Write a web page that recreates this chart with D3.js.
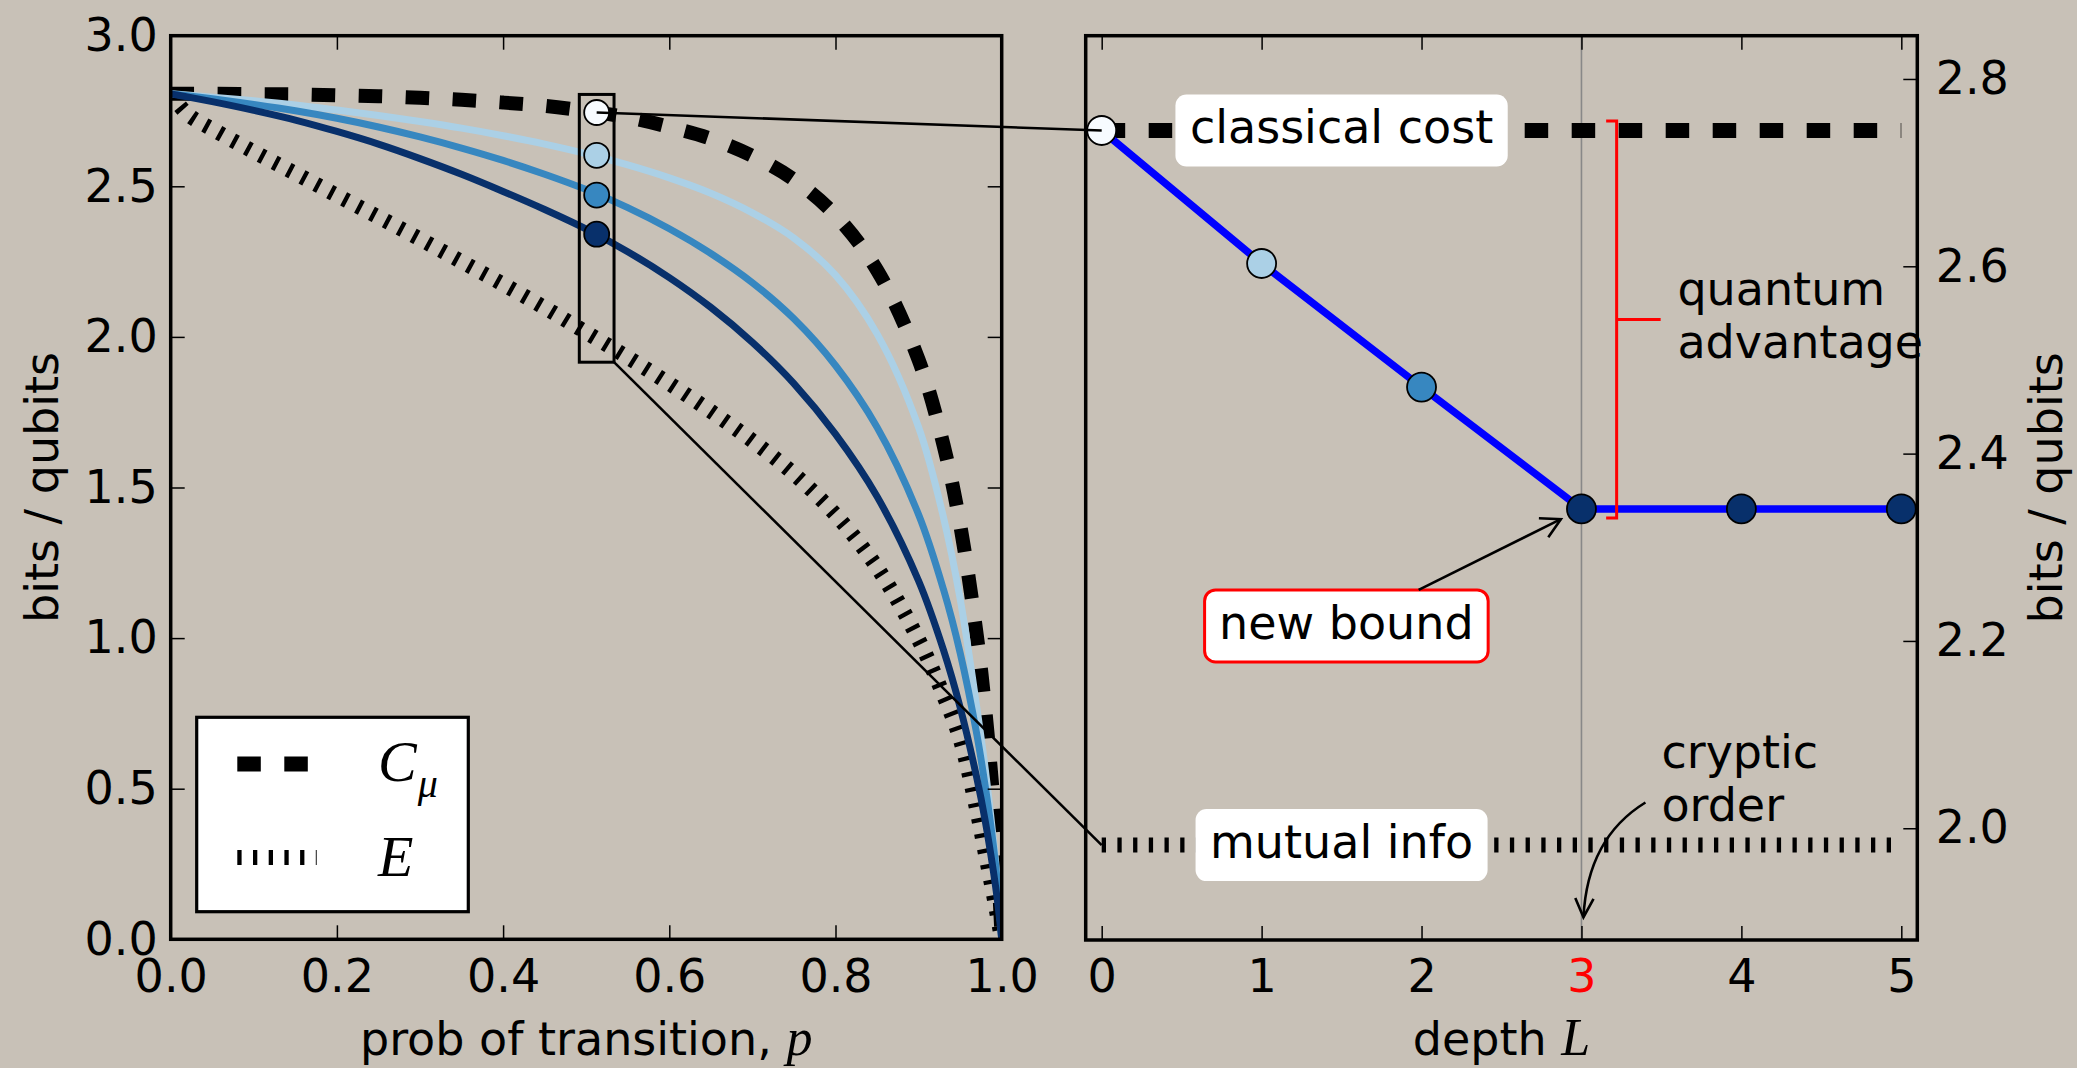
<!DOCTYPE html>
<html>
<head>
<meta charset="utf-8">
<script src="https://cdn.jsdelivr.net/npm/d3@7"></script>
<style>
  html, body { margin: 0; padding: 0; background: #c8c1b7; }
  svg { display: block; }
</style>
</head>
<body>
<svg id="fig" width="2077" height="1068"></svg>
<script>
// ---------- data ----------
// transition probability grid for the left panel
const pGrid   = [0, 0.02, 0.05, 0.1, 0.15, 0.2, 0.25, 0.3, 0.35, 0.4, 0.45, 0.5, 0.55, 0.6, 0.65, 0.7, 0.75, 0.8, 0.85, 0.9, 0.93, 0.95, 0.97, 0.98, 0.99, 0.995, 1.0];
// statistical complexity C_mu (bits)
const cmu     = [2.807, 2.807, 2.807, 2.806, 2.805, 2.802, 2.799, 2.794, 2.787, 2.778, 2.767, 2.75, 2.729, 2.697, 2.658, 2.601, 2.522, 2.404, 2.222, 1.924, 1.641, 1.376, 1.01, 0.768, 0.46, 0.265, 0];
// quantum memory cost at depth L = 1, 2, 3 (qubits)
const qDepth1 = [2.807, 2.803, 2.796, 2.784, 2.770, 2.753, 2.735, 2.715, 2.693, 2.668, 2.640, 2.608, 2.571, 2.528, 2.477, 2.412, 2.328, 2.205, 2.01, 1.70, 1.40, 1.13, 0.77, 0.57, 0.33, 0.19, 0];
const qDepth2 = [2.807, 2.801, 2.791, 2.772, 2.751, 2.726, 2.697, 2.664, 2.627, 2.586, 2.54, 2.489, 2.429, 2.359, 2.277, 2.18, 2.06, 1.905, 1.70, 1.41, 1.161, 0.951, 0.681, 0.511, 0.311, 0.181, 0];
const qDepth3 = [2.807, 2.797, 2.781, 2.752, 2.72, 2.682, 2.64, 2.592, 2.54, 2.483, 2.423, 2.358, 2.283, 2.197, 2.098, 1.982, 1.845, 1.677, 1.47, 1.19, 0.96, 0.77, 0.536, 0.396, 0.226, 0.126, 0];
// excess entropy E (bits)
const excess  = [2.807, 2.74, 2.69, 2.615, 2.543, 2.47, 2.398, 2.325, 2.25, 2.175, 2.097, 2.015, 1.932, 1.845, 1.753, 1.655, 1.545, 1.41, 1.235, 0.995, 0.81, 0.665, 0.43, 0.29, 0.15, 0.075, 0];

// right panel: cost versus encoding depth at the highlighted p
const depths       = [0, 1, 2, 3, 4, 5];
const depthCost    = [2.745, 2.603, 2.471, 2.341, 2.341, 2.341];
const depthColors  = ["#f7fbff", "#abd0e6", "#3787c0", "#08306b", "#08306b", "#08306b"];
const classicalCost = 2.745;
const mutualInfo    = 1.982;
const crypticOrder  = 3;

// highlighted slice in the left panel
const sliceP      = 0.5126;
const sliceWidthP = [0.4917, 0.5335];
const sliceSpan   = [1.916, 2.805];

// ticks
const leftXTicks  = [0, 0.2, 0.4, 0.6, 0.8, 1.0];
const leftYTicks  = [0, 0.5, 1.0, 1.5, 2.0, 2.5, 3.0];
const rightXTicks = [0, 1, 2, 3, 4, 5];
const rightYTicks = [2.0, 2.2, 2.4, 2.6, 2.8];

// ---------- layout ----------
const BG = "#c8c1b7";
const SANS = '"DejaVu Sans", sans-serif';
const SERIF = '"Liberation Serif", "DejaVu Serif", serif';
const FS = 46;

const L = { x0: 170.7, x1: 1001.7, y0: 35.7, y1: 939.3 };
const R = { x0: 1085.7, x1: 1917.3, y0: 35.7, y1: 940 };

const xP = d3.scaleLinear().domain([0, 1]).range([L.x0, L.x1]);
const yB = d3.scaleLinear().domain([0, 3]).range([L.y1, L.y0]);
const xD = d3.scaleLinear().domain([-0.1, 5.1]).range([R.x0, R.x1]);
const yD = d3.scaleLinear().domain([1.8807, 2.8462]).range([R.y1, R.y0]);

const svg = d3.select("#fig");
svg.append("rect").attr("width", 2077).attr("height", 1068).attr("fill", BG);

const defs = svg.append("defs");
defs.append("clipPath").attr("id", "clipL").append("rect")
  .attr("x", L.x0).attr("y", L.y0).attr("width", L.x1 - L.x0).attr("height", L.y1 - L.y0);
defs.append("clipPath").attr("id", "clipR").append("rect")
  .attr("x", R.x0).attr("y", R.y0).attr("width", R.x1 - R.x0).attr("height", R.y1 - R.y0);

function styleAxis(g) {
  g.attr("font-family", SANS).attr("font-size", FS);
  g.select(".domain").remove();
  g.selectAll(".tick line").attr("stroke", "#000").attr("stroke-width", 1.5);
  g.selectAll(".tick text").attr("fill", "#000");
}

// ---------- left panel ----------
const left = svg.append("g");
const curves = left.append("g").attr("clip-path", "url(#clipL)");

const lineP = vals => d3.line()
  .x((d, i) => xP(pGrid[i]))
  .y(d => yB(d))
  .curve(d3.curveCatmullRom.alpha(0.5))(vals);

curves.append("path").attr("d", lineP(excess))
  .attr("fill", "none").attr("stroke", "#000").attr("stroke-width", 15)
  .attr("stroke-dasharray", "4.3 11.4");
curves.append("path").attr("d", lineP(cmu))
  .attr("fill", "none").attr("stroke", "#000").attr("stroke-width", 14)
  .attr("stroke-dasharray", "23.5 23.5");
[[qDepth1, depthColors[1]], [qDepth2, depthColors[2]], [qDepth3, depthColors[3]]].forEach(([vals, c]) => {
  curves.append("path").attr("d", lineP(vals))
    .attr("fill", "none").attr("stroke", c).attr("stroke-width", 7)
    .attr("stroke-linejoin", "round");
});

// slice window and the costs at that p
left.append("rect")
  .attr("x", xP(sliceWidthP[0])).attr("y", yB(sliceSpan[1]))
  .attr("width", xP(sliceWidthP[1]) - xP(sliceWidthP[0]))
  .attr("height", yB(sliceSpan[0]) - yB(sliceSpan[1]))
  .attr("fill", "none").attr("stroke", "#000").attr("stroke-width", 3);
left.selectAll("circle.slice").data(depthCost.slice(0, 4)).join("circle")
  .attr("class", "slice")
  .attr("cx", xP(sliceP)).attr("cy", d => yB(d)).attr("r", 12.5)
  .attr("fill", (d, i) => depthColors[i]).attr("stroke", "#000").attr("stroke-width", 1.8);

// axes
left.append("g").attr("transform", `translate(0,${L.y1})`)
  .call(d3.axisBottom(xP).tickValues(leftXTicks).tickSize(-14).tickSizeOuter(0).tickPadding(20).tickFormat(d3.format(".1f")))
  .call(styleAxis);
left.append("g").attr("transform", `translate(0,${L.y0})`)
  .call(d3.axisTop(xP).tickValues(leftXTicks).tickSize(-14).tickSizeOuter(0).tickFormat(""))
  .call(styleAxis);
left.append("g").attr("transform", `translate(${L.x0},0)`)
  .call(d3.axisLeft(yB).tickValues(leftYTicks).tickSize(-14).tickSizeOuter(0).tickPadding(13).tickFormat(d3.format(".1f")))
  .call(styleAxis);
left.append("g").attr("transform", `translate(${L.x1},0)`)
  .call(d3.axisRight(yB).tickValues(leftYTicks).tickSize(-14).tickSizeOuter(0).tickFormat(""))
  .call(styleAxis);
left.append("rect").attr("x", L.x0).attr("y", L.y0)
  .attr("width", L.x1 - L.x0).attr("height", L.y1 - L.y0)
  .attr("fill", "none").attr("stroke", "#000").attr("stroke-width", 3.5);

// axis titles
const xt = left.append("text").attr("x", (L.x0 + L.x1) / 2).attr("y", 1055)
  .attr("text-anchor", "middle").attr("font-family", SANS).attr("font-size", FS);
xt.append("tspan").text("prob of transition, ");
xt.append("tspan").attr("font-family", SERIF).attr("font-style", "italic").attr("font-size", 52).text("p");

left.append("text").attr("transform", `translate(58,${(L.y0 + L.y1) / 2}) rotate(-90)`)
  .attr("text-anchor", "middle").attr("font-family", SANS).attr("font-size", FS)
  .text("bits / qubits");

// legend
const leg = left.append("g");
leg.append("rect").attr("x", 196.7).attr("y", 717.3).attr("width", 271.6).attr("height", 194.4)
  .attr("fill", "#fff").attr("stroke", "#000").attr("stroke-width", 3.2);
leg.append("line").attr("x1", 237.3).attr("x2", 308.3).attr("y1", 764).attr("y2", 764)
  .attr("stroke", "#000").attr("stroke-width", 15).attr("stroke-dasharray", "23.5 23.5");
leg.append("line").attr("x1", 237.3).attr("x2", 316.7).attr("y1", 857.5).attr("y2", 857.5)
  .attr("stroke", "#000").attr("stroke-width", 15).attr("stroke-dasharray", "4.3 11.4");
const cl = leg.append("text").attr("x", 378).attr("y", 781)
  .attr("font-family", SERIF).attr("font-style", "italic").attr("font-size", 58);
cl.append("tspan").text("C");
cl.append("tspan").attr("font-size", 40).attr("dy", 16).attr("dx", 1).text("μ");
leg.append("text").attr("x", 378).attr("y", 876)
  .attr("font-family", SERIF).attr("font-style", "italic").attr("font-size", 58).text("E");

// ---------- right panel ----------
const right = svg.append("g");
const plot = right.append("g").attr("clip-path", "url(#clipR)");

plot.append("line").attr("x1", xD(crypticOrder)).attr("x2", xD(crypticOrder))
  .attr("y1", R.y0).attr("y2", R.y1).attr("stroke", "#888").attr("stroke-width", 1.6);

plot.append("line").attr("x1", xD(depths[0])).attr("x2", xD(depths[depths.length - 1]))
  .attr("y1", yD(classicalCost)).attr("y2", yD(classicalCost))
  .attr("stroke", "#000").attr("stroke-width", 15).attr("stroke-dasharray", "23.5 23.5");
plot.append("line").attr("x1", xD(depths[0])).attr("x2", xD(depths[depths.length - 1]))
  .attr("y1", yD(mutualInfo)).attr("y2", yD(mutualInfo))
  .attr("stroke", "#000").attr("stroke-width", 15).attr("stroke-dasharray", "4.3 11.4");

plot.append("path")
  .attr("d", d3.line().x((d, i) => xD(depths[i])).y(d => yD(d))(depthCost))
  .attr("fill", "none").attr("stroke", "#0000ff").attr("stroke-width", 7.5).attr("stroke-linejoin", "round");

right.selectAll("circle.depth").data(depthCost).join("circle")
  .attr("class", "depth")
  .attr("cx", (d, i) => xD(depths[i])).attr("cy", d => yD(d)).attr("r", 14.5)
  .attr("fill", (d, i) => depthColors[i]).attr("stroke", "#000").attr("stroke-width", 1.8);

// labelled boxes
function boxLabel(text, cx, cy, stroke) {
  const g = right.append("g");
  const rect = g.append("rect");
  const t = g.append("text").attr("x", cx).attr("y", cy + 12.8)
    .attr("text-anchor", "middle").attr("font-family", SANS).attr("font-size", FS).text(text);
  const w = t.node().getComputedTextLength();
  rect.attr("x", cx - w / 2 - 14.5).attr("y", cy - 36).attr("width", w + 29).attr("height", 72)
    .attr("rx", 11).attr("ry", 11).attr("fill", "#fff")
    .attr("stroke", stroke || "none").attr("stroke-width", stroke ? 3 : 0);
  return { cx, cy, w: w + 29, h: 72 };
}
boxLabel("classical cost", xD(1.5), yD(classicalCost));
boxLabel("mutual info", xD(1.5), yD(mutualInfo));
const nb = boxLabel("new bound", xD(1.53), yD(2.216), "#ff0000");

// arrow helper (open "->" head)
function arrowHead(g, tip, dir, len, ang) {
  const a = Math.atan2(dir[1], dir[0]);
  const p1 = [tip[0] - len * Math.cos(a - ang), tip[1] - len * Math.sin(a - ang)];
  const p2 = [tip[0] - len * Math.cos(a + ang), tip[1] - len * Math.sin(a + ang)];
  g.append("path").attr("d", `M${p1[0]},${p1[1]}L${tip[0]},${tip[1]}L${p2[0]},${p2[1]}`)
    .attr("fill", "none").attr("stroke", "#000").attr("stroke-width", 2.6);
}

// "new bound" arrow to the depth-3 point
{
  const tx = xD(crypticOrder), ty = yD(depthCost[3]);
  const dx = tx - nb.cx, dy = ty - nb.cy;
  const t0 = (nb.h / 2) / Math.abs(dy);
  const sx = nb.cx + dx * t0, sy = nb.cy + dy * t0;
  const len = Math.hypot(tx - sx, ty - sy);
  const ux = (tx - sx) / len, uy = (ty - sy) / len;
  const ex = tx - ux * 23, ey = ty - uy * 23;
  const g = right.append("g");
  g.append("line").attr("x1", sx).attr("y1", sy).attr("x2", ex).attr("y2", ey)
    .attr("stroke", "#000").attr("stroke-width", 2.6);
  arrowHead(g, [ex, ey], [ux, uy], 22, 0.5);
}

// "cryptic order" annotation with curved arrow
{
  const g = right.append("g");
  const t = g.append("text").attr("font-family", SANS).attr("font-size", FS);
  t.append("tspan").attr("x", xD(3.5)).attr("y", 768).text("cryptic");
  t.append("tspan").attr("x", xD(3.5)).attr("y", 820.7).text("order");
  const sx = xD(3.5) - 16, sy = 802.5;
  const tipX = xD(crypticOrder) + 2, tipY = yD(1.905);
  const cx = xD(crypticOrder) + 6, cy = 838;
  g.append("path").attr("d", `M${sx},${sy}Q${cx},${cy} ${tipX},${tipY}`)
    .attr("fill", "none").attr("stroke", "#000").attr("stroke-width", 2.6);
  arrowHead(g, [tipX, tipY], [tipX - cx, tipY - cy], 21, 0.45);
}

// quantum advantage bracket
{
  const bx = xD(3.22);
  const top = yD(classicalCost) - 9.5, bot = yD(depthCost[3]) + 9;
  const mid = (top + bot) / 2;
  const g = right.append("g");
  g.append("path").attr("d", `M${bx - 10.5},${top}H${bx}V${bot}H${bx - 10.5}M${bx},${mid}H${bx + 44}`)
    .attr("fill", "none").attr("stroke", "#ff0000").attr("stroke-width", 3);
  const t = g.append("text").attr("font-family", SANS).attr("font-size", FS);
  t.append("tspan").attr("x", xD(3.6)).attr("y", 305).text("quantum");
  t.append("tspan").attr("x", xD(3.6)).attr("y", 357.8).text("advantage");
}

// axes
const xb = right.append("g").attr("transform", `translate(0,${R.y1})`)
  .call(d3.axisBottom(xD).tickValues(rightXTicks).tickSize(-14).tickSizeOuter(0).tickPadding(19).tickFormat(d3.format("d")))
  .call(styleAxis);
xb.selectAll(".tick text").filter(d => d === crypticOrder).attr("fill", "#ff0000");
right.append("g").attr("transform", `translate(0,${R.y0})`)
  .call(d3.axisTop(xD).tickValues(rightXTicks).tickSize(-14).tickSizeOuter(0).tickFormat(""))
  .call(styleAxis);
right.append("g").attr("transform", `translate(${R.x1},0)`)
  .call(d3.axisRight(yD).tickValues(rightYTicks).tickSize(-14).tickSizeOuter(0).tickPadding(18.4).tickFormat(d3.format(".1f")))
  .call(styleAxis);
right.append("rect").attr("x", R.x0).attr("y", R.y0)
  .attr("width", R.x1 - R.x0).attr("height", R.y1 - R.y0)
  .attr("fill", "none").attr("stroke", "#000").attr("stroke-width", 3.5);

const dt = right.append("text").attr("x", (R.x0 + R.x1) / 2).attr("y", 1055)
  .attr("text-anchor", "middle").attr("font-family", SANS).attr("font-size", FS);
dt.append("tspan").text("depth ");
dt.append("tspan").attr("font-family", SERIF).attr("font-style", "italic").attr("font-size", 52).text("L");

right.append("text").attr("transform", `translate(2062,${(R.y0 + R.y1) / 2}) rotate(-90)`)
  .attr("text-anchor", "middle").attr("font-family", SANS).attr("font-size", FS)
  .text("bits / qubits");

// ---------- connectors between the panels ----------
const conn = svg.append("g");
conn.append("line")
  .attr("x1", xP(sliceP)).attr("y1", yB(depthCost[0]))
  .attr("x2", xD(depths[0])).attr("y2", yD(classicalCost))
  .attr("stroke", "#000").attr("stroke-width", 2.6);
conn.append("line")
  .attr("x1", xP(sliceWidthP[1])).attr("y1", yB(sliceSpan[0]))
  .attr("x2", xD(depths[0])).attr("y2", yD(mutualInfo))
  .attr("stroke", "#000").attr("stroke-width", 2.6);
</script>
</body>
</html>
